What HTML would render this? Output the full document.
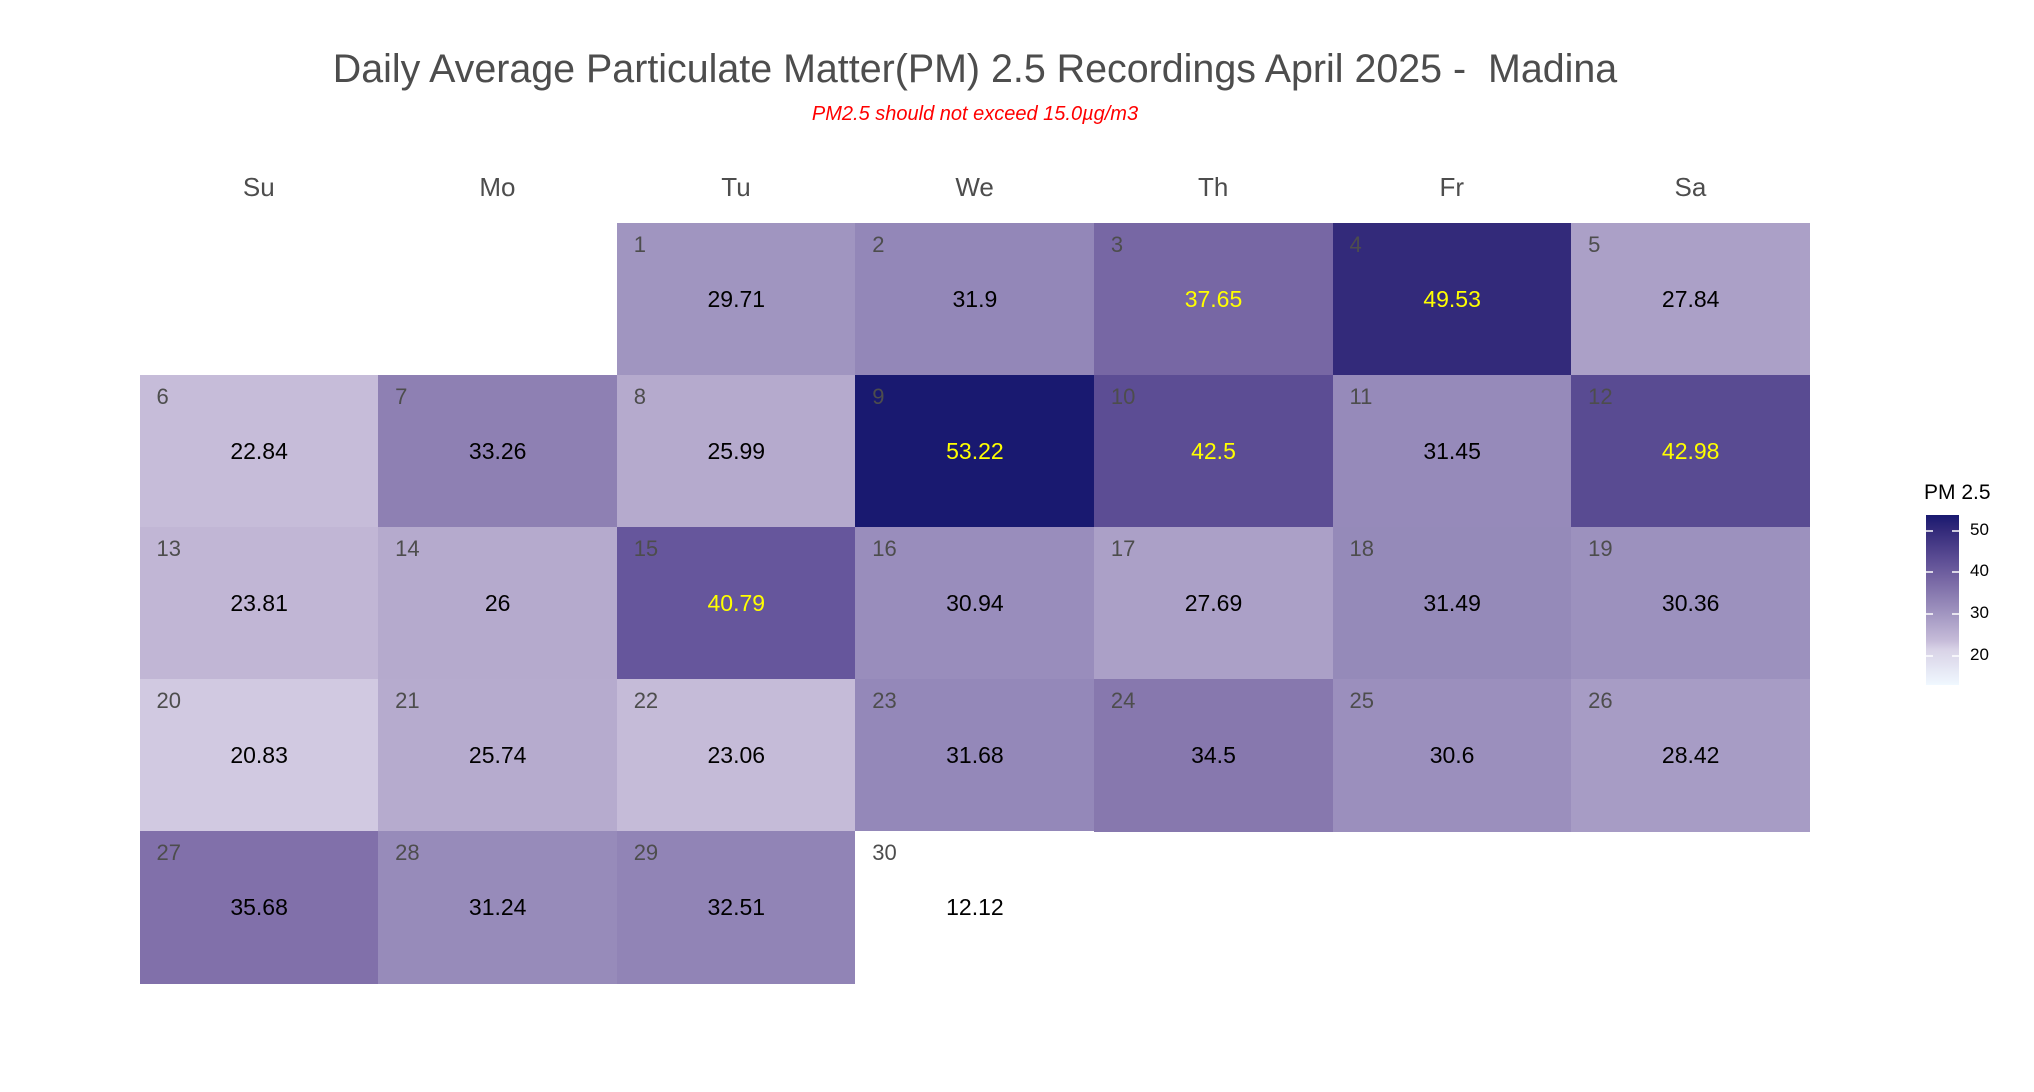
<!DOCTYPE html>
<html><head><meta charset="utf-8"><style>
body{margin:0;background:#fff;}
#c{position:relative;width:2034px;height:1092px;overflow:hidden;font-family:"Liberation Sans",Arial,sans-serif;}
.t{position:absolute;white-space:nowrap;}
.tile{position:absolute;}
.dn{position:absolute;left:17px;top:9px;font-size:22px;color:#4d4d4d;}
.val{position:absolute;left:0;right:0;top:63px;text-align:center;font-size:23px;}
</style></head><body><div id="c">
<div class="t" style="left:0;width:1950px;text-align:center;top:47px;font-size:39.4px;color:#4d4d4d;">Daily Average Particulate Matter(PM) 2.5 Recordings April 2025 -&nbsp; Madina</div>
<div class="t" style="left:0;width:1950px;text-align:center;top:103px;font-size:20px;color:#ff0000;font-style:italic;">PM2.5 should not exceed 15.0µg/m3</div>
<div id="hdr"></div>
<div id="tiles"></div>
<div class="t" style="left:1924px;top:481px;font-size:21px;color:#000;">PM 2.5</div>
<div style="position:absolute;left:1926px;top:515px;width:33px;height:170px;background:linear-gradient(to bottom,#191970 0%,#332a7a 9%,#5c4d94 26%,#7767a4 38%,#9f93bf 57%,#c6bcd9 74%,#d8d2e6 79%,#f0f8ff 100%);"></div>
<svg style="position:absolute;left:1926px;top:515px" width="33" height="170">
<g stroke="#fff" stroke-width="1.5">
<line x1="0" y1="16" x2="7" y2="16"/><line x1="26" y1="16" x2="33" y2="16"/>
<line x1="0" y1="57" x2="7" y2="57"/><line x1="26" y1="57" x2="33" y2="57"/>
<line x1="0" y1="99" x2="7" y2="99"/><line x1="26" y1="99" x2="33" y2="99"/>
<line x1="0" y1="141" x2="7" y2="141"/><line x1="26" y1="141" x2="33" y2="141"/>
</g></svg>
<div class="t" style="left:1970px;top:520px;font-size:17px;">50</div>
<div class="t" style="left:1970px;top:561px;font-size:17px;">40</div>
<div class="t" style="left:1970px;top:603px;font-size:17px;">30</div>
<div class="t" style="left:1970px;top:645px;font-size:17px;">20</div>
</div>
<script>
var days=["Su","Mo","Tu","We","Th","Fr","Sa"];
var L=139.5,W=238.6,T=223,H=152.1;
var h="";
days.forEach(function(d,i){h+='<div class="t" style="left:'+(L+i*W)+'px;width:'+W+'px;text-align:center;top:172px;font-size:26px;color:#4d4d4d;">'+d+'</div>';});
document.getElementById("hdr").innerHTML=h;
var v=[29.71,31.9,37.65,49.53,27.84,22.84,33.26,25.99,53.22,42.5,31.45,42.98,23.81,26,40.79,30.94,27.69,31.49,30.36,20.83,25.74,23.06,31.68,34.5,30.6,28.42,35.68,31.24,32.51,12.12];
var stops=[[12.12,[255,255,255]],[20.83,[209,201,225]],[22.84,[198,188,217]],[25.99,[181,170,205]],[29.71,[160,149,192]],[31.9,[147,135,184]],[33.26,[142,128,179]],[35.68,[129,112,170]],[37.65,[119,103,164]],[40.79,[102,86,156]],[42.5,[92,77,148]],[49.53,[51,42,122]],[53.22,[25,25,112]]];
function col(x){for(var i=1;i<stops.length;i++){if(x<=stops[i][0]){var a=stops[i-1],b=stops[i],t=(x-a[0])/(b[0]-a[0]);return 'rgb('+a[1].map(function(c,k){return Math.round(c+(b[1][k]-c)*t)}).join(',')+')';}}return 'rgb(25,25,112)';}
var s="";
for(var d=1;d<=30;d++){var idx=d+1;var r=Math.floor(idx/7),c=idx%7;var x=v[d-1];
s+='<div class="tile" style="left:'+(L+c*W)+'px;top:'+(T+r*H)+'px;width:'+(W+0.6)+'px;height:'+(H+0.6)+'px;background:'+(d==30?'#fff':col(x))+'"><div class="dn">'+d+'</div><div class="val" style="color:'+(x>=37?'#ffff00':'#000')+'">'+x+'</div></div>';}
document.getElementById("tiles").innerHTML=s;
</script>
</body></html>
